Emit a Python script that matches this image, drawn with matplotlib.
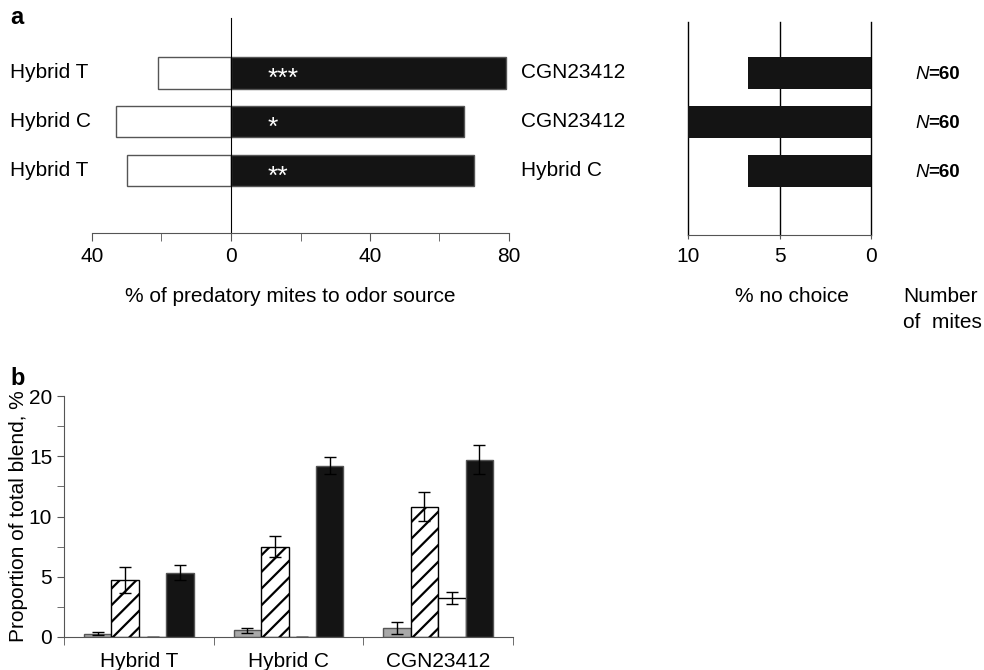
import numpy as np
import matplotlib
matplotlib.use("Agg")
import matplotlib.pyplot as plt
from matplotlib.transforms import blended_transform_factory

plt.rcParams["font.family"] = ["Liberation Sans", "DejaVu Sans"]
plt.rcParams["font.size"] = 15
plt.rcParams["hatch.linewidth"] = 1.6

# panel a: two-choice tests
left_odor = ["Hybrid T", "Hybrid C", "Hybrid T"]
right_odor = ["CGN23412", "CGN23412", "Hybrid C"]
left_pct = [21, 33, 30]
right_pct = [79, 67, 70]
stars = ["***", "*", "**"]
no_choice = [6.7, 10, 6.7]
n_mites = ["60", "60", "60"]

# panel b: blend proportions
genotypes = ["Hybrid T", "Hybrid C", "CGN23412"]
comp1 = [0.28, 0.55, 0.75]
comp1_err = [0.1, 0.22, 0.5]
comp2 = [4.75, 7.5, 10.8]
comp2_err = [1.1, 0.9, 1.2]
comp3 = [0, 0, 3.2]
comp3_err = [0, 0, 0.5]
comp4 = [5.35, 14.2, 14.7]
comp4_err = [0.65, 0.7, 1.2]

W, H = 984, 670
AX_COL = "#555555"
BLACK = "#141414"


def px(x0, y0, x1, y1):
    # pixel box (top-left origin) to figure fraction rect
    return [x0 / W, 1 - y1 / H, (x1 - x0) / W, (y1 - y0) / H]


fig = plt.figure(figsize=(9.84, 6.70), dpi=100)

# ---- panel a, left
ax1 = fig.add_axes(px(92, 18, 509, 233))
pos = np.arange(1, 4)
ax1.barh(pos, -np.array(left_pct), height=0.64, color="white", edgecolor=AX_COL, lw=1)
ax1.barh(pos, right_pct, height=0.64, color=BLACK, edgecolor=AX_COL, lw=1)
ax1.set_xlim(-40, 80)
ax1.set_ylim(4.27, -0.12)
for s in ["top", "right"]:
    ax1.spines[s].set_visible(False)
ax1.spines["left"].set_position(("data", 0))
ax1.spines["left"].set_color("black")
ax1.spines["bottom"].set_color(AX_COL)
ax1.tick_params(axis="y", left=False, labelleft=False)
ax1.set_xticks([-40, 0, 40, 80], ["40", "0", "40", "80"])
ax1.set_xticks([-20, 20, 60], minor=True)
ax1.tick_params(axis="x", which="both", direction="out", length=6, color=AX_COL, pad=4)

tr = blended_transform_factory(fig.transFigure, ax1.transData)
for p, lo, ro, st in zip(pos, left_odor, right_odor, stars):
    ax1.text(10 / W, p, lo, transform=tr, ha="left", va="center")
    ax1.text(521 / W, p, ro, transform=tr, ha="left", va="center")
    ax1.text(10.5, p + 0.26, st, color="white", ha="left", va="baseline", fontsize=19)

fig.text(290 / W, 1 - 297 / H, "% of predatory mites to odor source", ha="center", va="center")

# ---- panel a, right
ax2 = fig.add_axes(px(688, 22, 871, 235))
ax2.barh(pos, no_choice, height=0.64, color=BLACK, zorder=3)
ax2.set_xlim(10, 0)
ax2.set_ylim(4.31, -0.04)
for s in ["top", "right", "left"]:
    ax2.spines[s].set_visible(False)
ax2.spines["bottom"].set_color(AX_COL)
ax2.set_xticks([10, 5, 0])
ax2.grid(axis="x", color="black", lw=1)
for gl in ax2.get_xgridlines():
    gl.set_clip_on(False)
ax2.tick_params(axis="y", left=False, labelleft=False)
ax2.tick_params(axis="x", direction="out", length=3, color=AX_COL, pad=6)

tr2 = blended_transform_factory(fig.transFigure, ax2.transData)
for p, n in zip(pos, n_mites):
    t = ax2.text(915 / W, p + 0.04, "N", transform=tr2, ha="left", va="center",
                 fontsize=13.5, style="italic")
    ax2.annotate("=" + n, xy=(1, 0), xycoords=t, ha="left", va="bottom",
                 fontsize=13.5, fontweight="bold")

fig.text(792 / W, 1 - 296 / H, "% no choice", ha="center", va="center")
fig.text(903 / W, 1 - 296 / H, "Number", ha="left", va="center")
fig.text(903 / W, 1 - 322 / H, "of  mites", ha="left", va="center")

# ---- panel b
ax3 = fig.add_axes(px(64, 396, 513, 637))
x = np.arange(1, 4)
w = 0.183
ekw = dict(ecolor="black", elinewidth=1, capsize=4, capthick=1)
ax3.bar(x - 1.5 * w, comp1, w, yerr=comp1_err, color="#a8a8a8", edgecolor=AX_COL, lw=1, error_kw=ekw)
ax3.bar(x - 0.5 * w, comp2, w, yerr=comp2_err, color="white", edgecolor="black", hatch="//", lw=1, error_kw=ekw)
ax3.bar(x + 0.5 * w, comp3, w, yerr=comp3_err, color="white", edgecolor="black", lw=1, error_kw=ekw)
ax3.bar(x + 1.5 * w, comp4, w, yerr=comp4_err, color=BLACK, edgecolor=AX_COL, lw=1, error_kw=ekw)
ax3.set_xlim(0.5, 3.5)
ax3.set_ylim(0, 20)
for s in ["top", "right"]:
    ax3.spines[s].set_visible(False)
ax3.spines["left"].set_color(AX_COL)
ax3.spines["bottom"].set_color(AX_COL)
ax3.set_xticks(x, genotypes)
ax3.set_xticks([0.5, 1.5, 2.5, 3.5], minor=True)
ax3.tick_params(axis="x", which="major", length=0, pad=11)
ax3.tick_params(axis="x", which="minor", length=6, direction="out", color=AX_COL)
ax3.set_yticks([0, 5, 10, 15, 20])
ax3.set_yticks(np.arange(0, 20.1, 2.5), minor=True)
ax3.tick_params(axis="y", which="both", length=5, direction="out", color=AX_COL)
ax3.set_ylabel("Proportion of total blend, %")
ax3.yaxis.set_label_coords(-0.08, 0.5)

fig.text(10 / W, 1 - 18 / H, "a", fontsize=17, fontweight="bold", ha="left", va="center")
fig.text(10 / W, 1 - 378 / H, "b", fontsize=17, fontweight="bold", ha="left", va="center")

fig.savefig("out.png", dpi=100)
